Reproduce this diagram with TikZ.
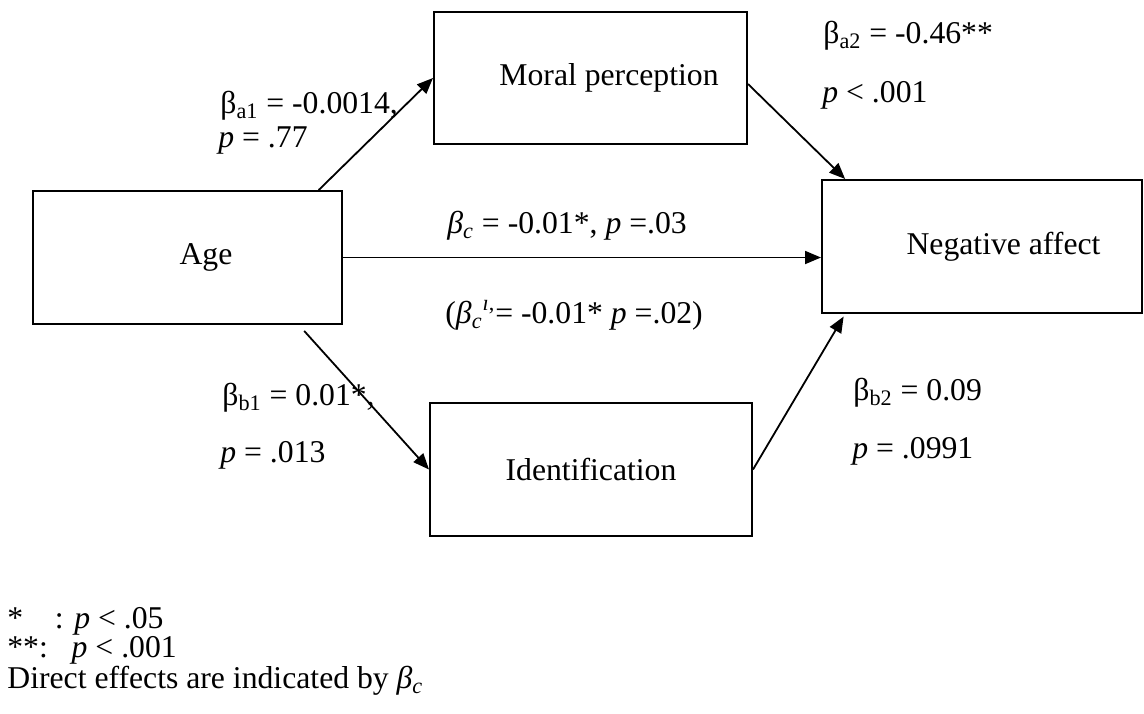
\documentclass[tikz,border=0pt]{standalone}
\usepackage{fontspec}
\setmainfont{Liberation Serif}
\usepackage{tikz}
\usetikzlibrary{arrows.meta,calc}
\tikzset{
  var/.style={draw, line width=1pt, inner sep=0pt, font=\fontsize{15.85}{19}\selectfont, minimum height=66.5pt},
  coef/.style={anchor=base west, inner sep=0pt, font=\fontsize{15.85}{19}\selectfont},
  effect/.style={line width=0.9pt, -{Triangle[length=8pt,width=6.5pt]}},
}
\newcommand{\bt}[1]{β\textsubscript{#1}}
\newcommand{\bc}{\textit{β}\textsubscript{\textit{c}}}
\newcommand{\pv}{\textit{p}}

\begin{document}
\begin{tikzpicture}[x=0.5pt,y=-0.5pt]
\useasboundingbox (0,0) rectangle (1144,713);
\node[var, minimum width=154.5pt] (age) at (187.5,257.5) {\hspace*{18.5pt}Age};
\node[var, minimum width=156.5pt, minimum height=66pt] (moral) at (590.5,78) {\hspace*{18.5pt}Moral perception};
\node[var, minimum width=160pt] (neg) at (982,246.5) {\hspace*{21.5pt}Negative affect};
\node[var, minimum width=161pt] (ident) at (591,469.5) {Identification};
\draw[effect] ($(age.north west)!0.922!(age.north east)$) -- (moral.west);
\draw[effect] ([yshift=-3pt]moral.east) -- ($(neg.north west)!0.075!(neg.north east)$);
\draw[effect] (age.east) -- (age.east -| neg.west);
\draw[effect, shorten <=4pt] ($(age.south west)!0.858!(age.south east)$) -- (ident.west);
\draw[effect, shorten >=1.5pt] (ident.east) -- ($(neg.south west)!0.075!(neg.south east)$);
\node[coef] (ba1) at (220,113) {\bt{a1} = -0.0014,};
\node[coef] (pa1) at (218,147) {\pv{} = .77};
\node[coef] (ba2) at (823,43) {\bt{a2} = -0.46**};
\node[coef] (pa2) at (822,102) {\pv{} < .001};
\node[coef] (bc) at (447,233) {\bc{} = -0.01*, \pv{} =.03};
\node[coef] (bcp) at (445,323) {(\bc\textsuperscript{\textit{ı},}= -0.01* \pv{} =.02)};
\node[coef] (bb1) at (222,405) {\bt{b1} = 0.01*,};
\node[coef] (pb1) at (220,462) {\pv{} = .013};
\node[coef] (bb2) at (853,400) {\bt{b2} = 0.09};
\node[coef] (pb2) at (852,458) {\pv{} = .0991};
\node[coef] (sig1) at (7,628) {*~~~~: \pv{} < .05};
\node[coef] (sig2) at (7,657) {**:~~~\pv{} < .001};
\node[coef] (note) at (7,688) {Direct effects are indicated by \bc};
\end{tikzpicture}
\end{document}
